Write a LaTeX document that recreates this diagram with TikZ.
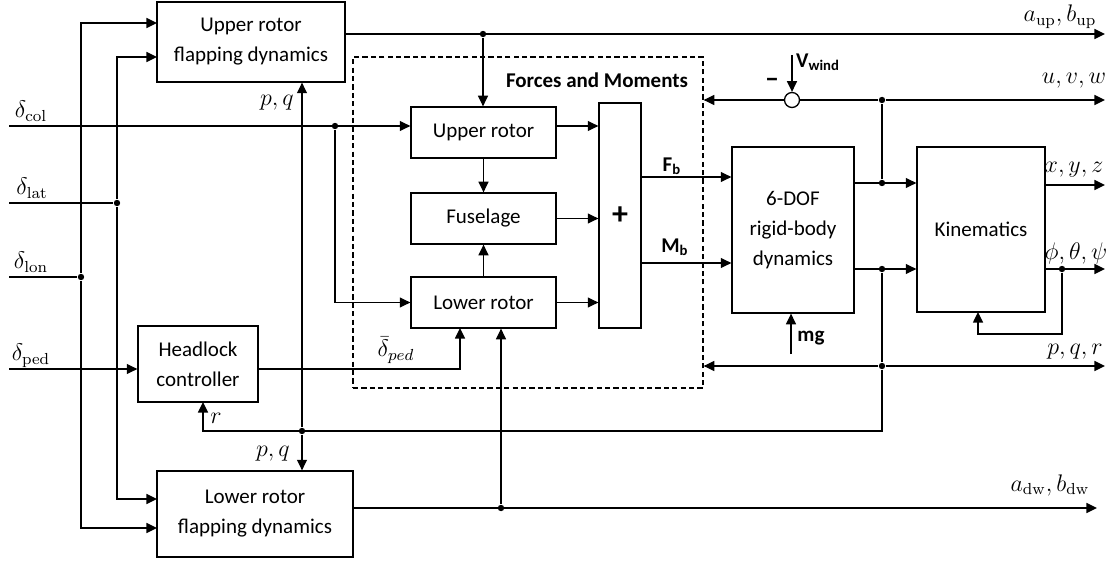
\documentclass[tikz,border=0pt]{standalone}
\usepackage[no-math]{fontspec}
\setmainfont{Carlito}
\usetikzlibrary{arrows.meta,calc}
\begin{document}
\begin{tikzpicture}[x=0.5pt,y=-0.5pt,
  line width=0.65pt,
  blk/.style={draw, line width=0.65pt, align=center, inner sep=0pt, font=\fontsize{10.5}{15}\selectfont},
  arr/.style={-{Triangle[length=5.3pt,width=5pt]}},
  dot/.style={circle, fill, inner sep=0pt, minimum size=3.2pt},
  lab/.style={inner sep=0pt, font=\fontsize{12}{14}\selectfont},
  blab/.style={inner sep=0pt, font=\fontsize{10.5}{12}\selectfont\bfseries},
]
\useasboundingbox (0,0) rectangle (1118,561);

% dashed frame
\node[draw, dash pattern=on 2.6pt off 1.6pt, minimum width=175pt, minimum height=165.5pt, inner sep=0pt] (fm) at (528,222.5) {};

% blocks
\node[blk, minimum width=94pt, minimum height=40pt] (uflap) at (251,42) {Upper rotor\\flapping dynamics};
\node[blk, minimum width=98pt, minimum height=43pt] (lflap) at (255,514) {Lower rotor\\flapping dynamics};
\node[blk, minimum width=60pt, minimum height=38pt] (head) at (198,364) {Headlock\\controller};
\node[blk, minimum width=72.5pt, minimum height=25.5pt] (urot) at (483.5,132.5) {Upper rotor};
\node[blk, minimum width=72.5pt, minimum height=25.5pt] (fus) at (483.5,218.5) {Fuselage};
\node[blk, minimum width=72.5pt, minimum height=25.5pt] (lrot) at (483.5,302.5) {Lower rotor};
\node[blk, minimum width=21pt, minimum height=112.5pt, font=\fontsize{16}{18}\selectfont\bfseries] (sum) at (620,215.5) {+};
\node[blk, minimum width=61pt, minimum height=83pt] (dof) at (793,230) {6-DOF\\rigid-body\\dynamics};
\node[blk, minimum width=64pt, minimum height=82.5pt] (kin) at (981,229.5) {Kinematics};
\node[draw, circle, minimum size=7.5pt, inner sep=0pt] (sumc) at (792,100) {};

% coordinates
\coordinate (colin) at (9,126);
\coordinate (latin) at (9,203);
\coordinate (lonin) at (9,277);
\coordinate (pedin) at (9,369);
\coordinate (uf1) at (157,23);
\coordinate (uf2) at (157,57);
\coordinate (lf1) at (157,499);
\coordinate (lf2) at (157,528);
\coordinate (lr1) at (460,328);
\coordinate (upout) at (1105,34);
\coordinate (fby) at (0,177);
\coordinate (mby) at (0,263);
\coordinate (uvwout) at (1105,100);
\coordinate (vw) at (792,55);
\coordinate (pqrout) at (1105,366);
\coordinate (rc) at (882,431);
\coordinate (hd1) at (203,402);
\coordinate (dwout) at (1097,508);
\coordinate (xyzout) at (1105,185);
\coordinate (angout) at (1105,269);
\coordinate (kc) at (1062,334);
\coordinate (kb) at (978,312);
\coordinate (mg) at (791,354);

% junction dots
\node[dot] (dlon) at (81,277) {};
\node[dot] (dlat) at (117,203) {};
\node[dot] (dcol) at (335,126) {};
\node[dot] (dup) at (483,34) {};
\node[dot] (j1) at (882,183) {};
\node[dot] (j2) at (882,269) {};
\node[dot] (juvw) at (882,100) {};
\node[dot] (jpqr) at (882,366) {};
\node[dot] (jpq) at (302,431) {};
\node[dot] (jdw) at (501,508) {};
\node[dot] (ja) at (1062,269) {};

% inputs
\draw (lonin) -- (dlon);
\draw[arr] (dlon) |- (uf1);
\draw[arr] (dlon) |- (lf2);
\draw (latin) -- (dlat);
\draw[arr] (dlat) |- (uf2);
\draw[arr] (dlat) |- (lf1);
\draw[arr] (colin) -- (urot.west |- colin);
\draw[arr] (dcol) |- (lrot.west);
\draw[arr] (pedin) -- (head.west |- pedin);
\draw[arr] (head.east |- pedin) -| (lr1);

% upper flapping output
\draw[arr] (uflap.east |- upout) -- (upout);
\draw[arr] (dup) -- (dup |- urot.north);

% forces and moments
\draw[arr] (urot.south) -- (fus.north);
\draw[arr] (lrot.north) -- (fus.south);
\draw[arr] (urot.east |- colin) -- (sum.west |- colin);
\draw[arr] (fus.east) -- (sum.west |- fus.east);
\draw[arr] (lrot.east) -- (sum.west |- lrot.east);
\draw[arr] (sum.east |- fby) -- (dof.west |- fby);
\draw[arr] (sum.east |- mby) -- (dof.west |- mby);

% rigid body outputs
\draw[arr] (dof.east |- j1) -- (kin.west |- j1);
\draw[arr] (dof.east |- j2) -- (kin.west |- j2);
\draw (j1) -- (juvw);
\draw[arr] (juvw) -- (uvwout);
\draw (juvw) -- (sumc);
\draw[arr] (sumc) -- (fm.east |- sumc);
\draw[arr] (vw) -- (sumc);
\draw (j2) -- (jpqr);
\draw[arr] (jpqr) -- (pqrout);
\draw[arr] (jpqr) -- (fm.east |- jpqr);
\draw[arr] (jpqr) -- (rc) -| (hd1);
\draw[arr] (jpq) -- (jpq |- uflap.south);
\draw[arr] (jpq) -- (jpq |- lflap.north);

% lower flapping output
\draw[arr] (lflap.east |- dwout) -- (dwout);
\draw[arr] (jdw) -- (jdw |- lrot.south);

% kinematics
\draw[arr] (kin.east |- xyzout) -- (xyzout);
\draw[arr] (kin.east |- angout) -- (angout);
\draw[arr] (ja) -- (kc) -| (kb);
\draw[arr] (mg) -- (mg |- dof.south);

% labels
\node[lab] (tcol) at (31,111) {$\delta_{\mathrm{col}}$};
\node[lab] (tlat) at (32,188) {$\delta_{\mathrm{lat}}$};
\node[lab] (tlon) at (31,262) {$\delta_{\mathrm{lon}}$};
\node[lab] (tped) at (31,356) {$\delta_{\mathrm{ped}}$};
\node[lab] (tpq1) at (277,103) {$p,q$};
\node[lab] (tpq2) at (273,454) {$p,q$};
\node[lab] (tr) at (216,418) {$r$};
\node[lab] (tdp) at (396,350) {$\bar{\delta}_{ped}$};
\node[blab] (tfm) at (597,80) {Forces and Moments};
\node[blab] (tfb) at (672,166) {F\textsubscript{b}};
\node[blab] (tmb) at (675,247) {M\textsubscript{b}};
\node[lab] (tup) at (1060,17) {$a_{\mathrm{up}},b_{\mathrm{up}}$};
\node[lab] (tuvw) at (1074,81) {$u,v,w$};
\node[lab] (txyz) at (1074,170) {$x,y,z$};
\node[lab] (tang) at (1076,253) {$\phi,\theta,\psi$};
\node[lab] (tpqr) at (1075,352) {$p,q,r$};
\node[lab] (tdw) at (1050,485) {$a_{\mathrm{dw}},b_{\mathrm{dw}}$};
\node[blab] (tvw) at (818,62) {V\textsubscript{wind}};
\node[blab, font=\fontsize{14}{16}\selectfont\bfseries] (tmin) at (772,83) {\textendash};
\node[blab] (tmg) at (811,338) {mg};
\end{tikzpicture}
\end{document}
